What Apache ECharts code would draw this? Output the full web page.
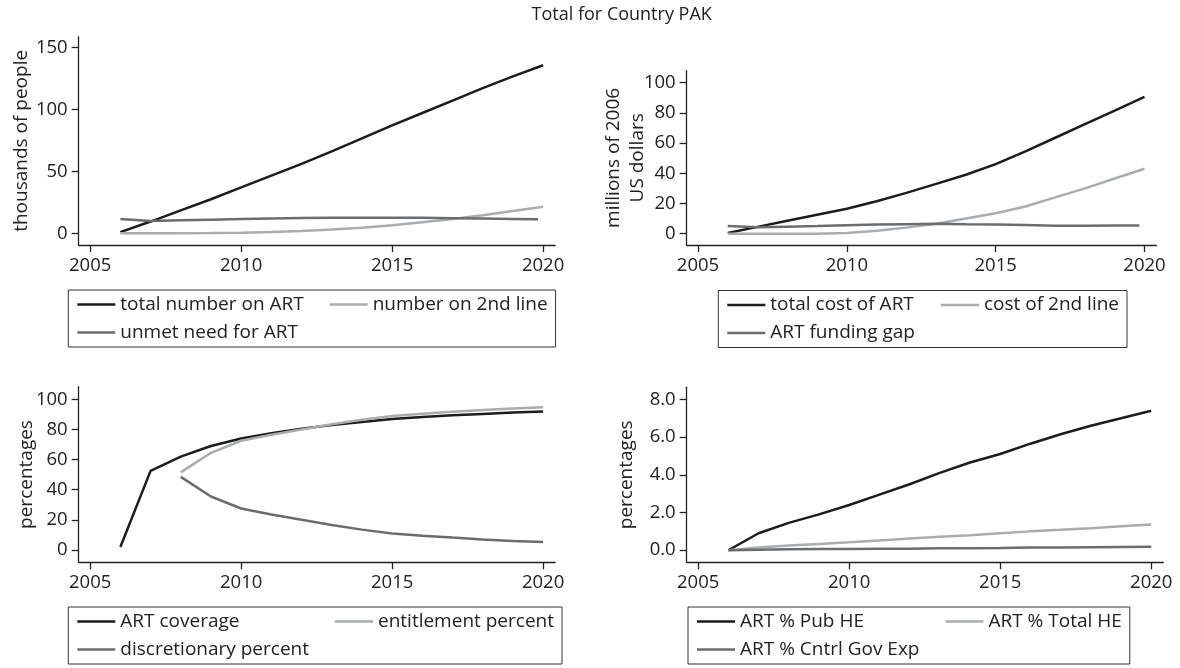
<!DOCTYPE html>
<html>
<head>
<meta charset="utf-8">
<script src="https://cdn.jsdelivr.net/npm/echarts@6/dist/echarts.min.js"></script>
<style>
  html, body { margin: 0; padding: 0; background: #ffffff; }
  #chart { width: 1180px; height: 668px; }
</style>
</head>
<body>
<div id="chart"></div>
<script>
// ---- data -------------------------------------------------------------
const years = [2006, 2007, 2008, 2009, 2010, 2011, 2012, 2013, 2014, 2015, 2016, 2017, 2018, 2019, 2020];
// the unmet-need / funding-gap projections stop a little before 2020
const gapYears = [2006, 2007, 2008, 2009, 2010, 2011, 2012, 2013, 2014, 2015, 2016, 2017, 2018, 2019, 2019.83];
const tickYears = [2005, 2010, 2015, 2020];

// thousands of people
const totalOnART    = [1, 9.5, 18.5, 27.5, 37, 46.5, 56, 66, 76.5, 87, 97, 107, 117, 126.5, 135.5];
const onSecondLine  = [0, 0, 0, 0.2, 0.5, 1, 1.8, 3, 4.5, 6.5, 9, 11.5, 14.5, 18, 21.5];
const unmetNeed     = [11.5, 10, 10.5, 11, 11.5, 12, 12.3, 12.5, 12.6, 12.6, 12.5, 12.2, 11.9, 11.6, 11.3];

// millions of 2006 US dollars
const totalCost     = [0.5, 4.5, 8.5, 12.5, 16.5, 21.5, 27, 33, 39, 46, 54.5, 63.5, 72.5, 81.5, 90.5];
const secondCost    = [0, 0, 0, 0, 0.5, 2, 4, 6.5, 10, 13.5, 18, 24, 30, 36.5, 43];
const fundingGap    = [5, 4.2, 4.6, 5, 5.5, 6, 6.3, 6.6, 6.2, 6, 5.8, 5.2, 5.2, 5.4, 5.4];

// percentages
const coverage      = [2, 52.5, 62, 69, 74, 77.5, 80.5, 83, 85, 87, 88.3, 89.4, 90.3, 91.2, 92];
const entitlement   = [null, null, 51.5, 64.5, 72.5, 76.5, 80, 83.5, 86.5, 89, 90.5, 91.8, 93, 94, 94.8];
const discretionary = [null, null, 48.5, 35.5, 27.5, 23.5, 20, 16.5, 13.5, 11, 9.5, 8.2, 7, 6, 5.2];

// ART spending as percentages
const pctPubHE      = [0, 0.9, 1.45, 1.9, 2.4, 2.95, 3.5, 4.1, 4.65, 5.1, 5.65, 6.15, 6.6, 7.0, 7.4];
const pctTotalHE    = [0, 0.15, 0.25, 0.33, 0.42, 0.52, 0.62, 0.71, 0.8, 0.9, 1.0, 1.08, 1.17, 1.27, 1.37];
const pctGovExp     = [0, 0.03, 0.05, 0.06, 0.07, 0.08, 0.08, 0.1, 0.11, 0.12, 0.14, 0.15, 0.16, 0.17, 0.18];

const yTicks1 = [0, 50, 100, 150];
const yTicks2 = [0, 20, 40, 60, 80, 100];
const yTicks3 = [0, 20, 40, 60, 80, 100];
const yTicks4 = [0, 2, 4, 6, 8];

// ---- styling ----------------------------------------------------------
const FONT = '"Open Sans", "Noto Sans", sans-serif';
const INK = '#222222';
const C_DARK = '#1c1c1c';
const C_LIGHT = '#a9adb0';
const C_MID = '#6b6c6e';
const LABEL_SIZE = 18.5;
const TEXT_SIZE = 19;

const measureCtx = document.createElement('canvas').getContext('2d');
function textWidth(s) {
  measureCtx.font = TEXT_SIZE + 'px "Open Sans"';
  return measureCtx.measureText(s).width;
}

const pair = (xs, ys) => xs.map((x, i) => [x, ys[i]]);

// plot rectangles of the four panels
const panels = [
  { left: 78.7,  top: 36.7,  width: 476.5, height: 208.3, yMin: -9.4,  yMax: 158.5, ticks: yTicks1,
    name: 'thousands of people', nameGap: 45.5, legendLeft: 68.3, legendTop: 290, digits: 0 },
  { left: 686.7, top: 70.7,  width: 469.7, height: 174.3, yMin: -7.5,  yMax: 107.9, ticks: yTicks2,
    name: 'millions of 2006\nUS dollars', nameGap: 37, legendLeft: 718.3, legendTop: 290.5, digits: 0 },
  { left: 78.7,  top: 386.7, width: 476.5, height: 175.6, yMin: -8.2,  yMax: 108.4, ticks: yTicks3,
    name: 'percentages', nameGap: 40.5, legendLeft: 68.3, legendTop: 607, digits: 0 },
  { left: 686.7, top: 387.3, width: 476.6, height: 175.0, yMin: -0.64, yMax: 8.64,  ticks: yTicks4,
    name: 'percentages', nameGap: 48, legendLeft: 688, legendTop: 607, digits: 1 }
];

const seriesDefs = [
  [ { name: 'total number on ART', x: years, y: totalOnART, color: C_DARK },
    { name: 'number on 2nd line', x: years, y: onSecondLine, color: C_LIGHT },
    { name: 'unmet need for ART', x: gapYears, y: unmetNeed, color: C_MID } ],
  [ { name: 'total cost of ART', x: years, y: totalCost, color: C_DARK },
    { name: 'cost of 2nd line', x: years, y: secondCost, color: C_LIGHT },
    { name: 'ART funding gap', x: gapYears, y: fundingGap, color: C_MID } ],
  [ { name: 'ART coverage', x: years, y: coverage, color: C_DARK },
    { name: 'entitlement percent', x: years, y: entitlement, color: C_LIGHT },
    { name: 'discretionary percent', x: years, y: discretionary, color: C_MID } ],
  [ { name: 'ART % Pub HE', x: years, y: pctPubHE, color: C_DARK },
    { name: 'ART % Total HE', x: years, y: pctTotalHE, color: C_LIGHT },
    { name: 'ART % Cntrl Gov Exp', x: years, y: pctGovExp, color: C_MID } ]
];

const axisLine = { show: true, onZero: false, lineStyle: { color: INK, width: 1.3 } };
const tickStyle = { color: INK, width: 1.3 };
const labelText = { fontFamily: FONT, fontSize: LABEL_SIZE, color: INK };

const grid = [], xAxis = [], yAxis = [], series = [], legend = [];

panels.forEach((p, i) => {
  grid.push({ left: p.left, top: p.top, width: p.width, height: p.height, containLabel: false });

  xAxis.push({
    type: 'value', gridIndex: i, min: 2004.62, max: 2020.4,
    axisLine: axisLine,
    axisTick: { show: true, length: 7, lineStyle: tickStyle, customValues: tickYears },
    axisLabel: Object.assign({
      margin: 11, customValues: tickYears,
      formatter: v => String(Math.round(v))
    }, labelText),
    splitLine: { show: false }
  });

  yAxis.push({
    type: 'value', gridIndex: i, min: p.yMin, max: p.yMax,
    name: p.name, nameLocation: 'middle', nameRotate: 90, nameGap: p.nameGap,
    nameMoveOverlap: false,
    nameTextStyle: { fontFamily: FONT, fontSize: TEXT_SIZE, color: INK, lineHeight: 24, align: 'center' },
    axisLine: axisLine,
    axisTick: { show: true, length: 7, lineStyle: tickStyle, customValues: p.ticks },
    axisLabel: Object.assign({
      margin: 11, customValues: p.ticks,
      formatter: v => Number(v).toFixed(p.digits)
    }, labelText),
    splitLine: { show: false }
  });

  const defs = seriesDefs[i];
  defs.forEach(d => {
    series.push({
      type: 'line', name: d.name, xAxisIndex: i, yAxisIndex: i,
      data: pair(d.x, d.y), showSymbol: false, symbol: 'none',
      connectNulls: false, smooth: false,
      color: d.color, lineStyle: { color: d.color, width: 2.5 },
      emphasis: { disabled: true }
    });
  });

  // two-column key: first column holds items 1 and 3
  const colW = Math.max(textWidth(defs[0].name), textWidth(defs[2].name)) + 21;
  const rowW = 38 + 5 + colW + 5 + 38 + 5 + textWidth(defs[1].name);
  legend.push({
    left: p.legendLeft, top: p.legendTop, orient: 'horizontal',
    width: rowW + 22, padding: [3, 8, 3, 9],
    itemGap: 5, itemWidth: 38, itemHeight: 2.5, icon: 'rect',
    borderColor: '#333333', borderWidth: 1, borderRadius: 0,
    selectedMode: false,
    textStyle: { fontFamily: FONT, fontSize: TEXT_SIZE, color: INK, lineHeight: 23 },
    data: [
      { name: defs[0].name, textStyle: { width: colW } },
      { name: defs[1].name },
      { name: defs[2].name, textStyle: { width: colW } }
    ]
  });
});

const chart = echarts.init(document.getElementById('chart'), null, { renderer: 'canvas' });
chart.setOption({
  animation: false,
  backgroundColor: '#ffffff',
  textStyle: { fontFamily: FONT },
  graphic: [{
    type: 'text', x: 621.7, y: 15,
    style: { text: 'Total for Country PAK', align: 'center', verticalAlign: 'middle',
             font: '18px "Open Sans", sans-serif', fill: INK }
  }],
  grid, xAxis, yAxis, series, legend
});
</script>
</body>
</html>
